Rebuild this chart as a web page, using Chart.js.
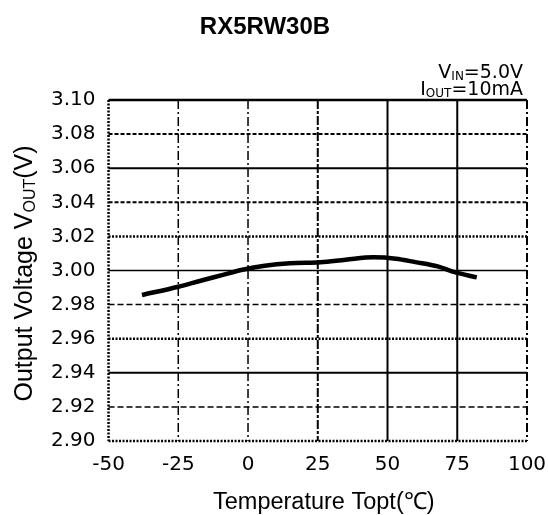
<!DOCTYPE html>
<html>
<head>
    <title>RX5RW30B</title>
    <script src="https://cdn.jsdelivr.net/npm/chart.js"></script>
    <style>
        body { margin: 0; background: #fff; }
        #wrap { width: 548px; height: 515px; }
    </style>
</head>
<body>
<div id="wrap"><canvas id="chart" width="548" height="515"></canvas></div>
<script>
    // data
    const temps = [-38, -25, -17, -9, -2, 6, 15, 26, 35, 45, 53, 60, 68, 74, 82];
    const volts = [2.9856, 2.9905, 2.994, 2.9974, 3.0004, 3.0028, 3.0043, 3.0049, 3.0063, 3.0077, 3.0069, 3.0049, 3.0024, 2.999, 2.996];

    const xTicks = [-50, -25, 0, 25, 50, 75, 100];
    const yTicks = [2.90, 2.92, 2.94, 2.96, 2.98, 3.00, 3.02, 3.04, 3.06, 3.08, 3.10];

    // grid line look, one per tick (scanned datasheet grid is a mix of styles)
    const xGridDash = [[2, 1.5], [9, 3, 2, 3], [9, 3, 2, 3], [9, 2, 3, 2], [], [], [9, 3, 2, 3]];
    const xGridWidth = [2.5, 1.5, 1.5, 2, 2, 2, 2];
    const yGridDash = [[2, 1.5], [6, 3], [], [2, 1.5], [6, 3], [], [2, 1.5], [4, 2], [], [4, 2], []];
    const yGridWidth = [2.5, 1.5, 2, 2.5, 1.5, 1.5, 2.5, 2, 2, 2, 2.5];

    const labelFont = "DejaVu Sans";
    const titleFont = "Liberation Sans";

    function drawRich(ctx, parts, x, y, align, size, family) {
        let w = 0;
        parts.forEach(p => {
            ctx.font = (p.sub ? Math.round(size * 0.62) : size) + "px " + family;
            w += ctx.measureText(p.t).width;
        });
        let cx = align === "right" ? x - w : (align === "center" ? x - w / 2 : x);
        ctx.textAlign = "left";
        ctx.textBaseline = "alphabetic";
        parts.forEach(p => {
            ctx.font = (p.sub ? Math.round(size * 0.62) : size) + "px " + family;
            ctx.fillText(p.t, cx, y + (p.sub ? size * 0.12 : 0));
            cx += ctx.measureText(p.t).width;
        });
    }

    const gridPlugin = {
        id: "sheetGrid",
        beforeDatasetsDraw(chart) {
            const ctx = chart.ctx;
            const a = chart.chartArea;
            const xs = chart.scales.x, ys = chart.scales.y;
            ctx.save();
            ctx.strokeStyle = "#000";
            xTicks.forEach((v, i) => {
                const px = xs.getPixelForValue(v);
                ctx.setLineDash(xGridDash[i]);
                ctx.lineWidth = xGridWidth[i];
                ctx.beginPath();
                ctx.moveTo(px, a.top);
                ctx.lineTo(px, a.bottom);
                ctx.stroke();
            });
            yTicks.forEach((v, i) => {
                const py = ys.getPixelForValue(v);
                ctx.setLineDash(yGridDash[i]);
                ctx.lineWidth = yGridWidth[i];
                ctx.beginPath();
                ctx.moveTo(a.left, py);
                ctx.lineTo(a.right, py);
                ctx.stroke();
            });
            ctx.restore();
        },
        afterDraw(chart) {
            const ctx = chart.ctx;
            const a = chart.chartArea;
            ctx.save();
            ctx.fillStyle = "#000";
            // title
            ctx.font = "bold 24px " + titleFont;
            ctx.textAlign = "center";
            ctx.textBaseline = "alphabetic";
            ctx.fillText("RX5RW30B", chart.width / 2 - 9, 34);
            // conditions
            drawRich(ctx, [{t: "V"}, {t: "IN", sub: true}, {t: "=5.0V"}], a.right - 4, a.top - 22, "right", 19, labelFont);
            drawRich(ctx, [{t: "I"}, {t: "OUT", sub: true}, {t: "=10mA"}], a.right - 4, a.top - 5, "right", 19, labelFont);
            // x axis title
            drawRich(ctx, [{t: "Temperature Topt(℃)"}], (a.left + a.right) / 2 + 6, a.bottom + 68, "center", 23.5, titleFont);
            // y axis title
            ctx.translate(32, (a.top + a.bottom) / 2 + 3);
            ctx.rotate(-Math.PI / 2);
            drawRich(ctx, [{t: "Output Voltage V"}, {t: "OUT", sub: true}, {t: "(V)"}], 0, 0, "center", 25, titleFont);
            ctx.restore();
        }
    };

    const noPad = s => { s.paddingLeft = 0; s.paddingRight = 0; s.paddingTop = 0; s.paddingBottom = 0; };

    new Chart(document.getElementById("chart").getContext("2d"), {
        type: "scatter",
        data: {
            datasets: [{
                data: temps.map((t, i) => ({ x: t, y: volts[i] })),
                showLine: true,
                borderColor: "#000",
                borderWidth: 4.5,
                pointRadius: 0,
                cubicInterpolationMode: "monotone",
                fill: false
            }]
        },
        options: {
            responsive: false,
            animation: false,
            layout: { padding: { top: 100, left: 38, right: 21, bottom: 26 } },
            plugins: { legend: { display: false }, tooltip: { enabled: false } },
            scales: {
                x: {
                    type: "linear",
                    min: -50, max: 100,
                    afterBuildTicks: s => { s.ticks = xTicks.map(v => ({ value: v })); },
                    afterFit: noPad,
                    grid: { display: false, drawTicks: false },
                    border: { display: false },
                    ticks: { color: "#000", padding: 12, font: { family: labelFont, size: 20 }, maxRotation: 0 }
                },
                y: {
                    min: 2.90, max: 3.10,
                    afterBuildTicks: s => { s.ticks = yTicks.map(v => ({ value: v })); },
                    afterFit: noPad,
                    grid: { display: false, drawTicks: false },
                    border: { display: false },
                    ticks: {
                        color: "#000", padding: 13,
                        font: { family: labelFont, size: 20 },
                        callback: v => v.toFixed(2)
                    }
                }
            }
        },
        plugins: [gridPlugin]
    });
</script>
</body>
</html>
